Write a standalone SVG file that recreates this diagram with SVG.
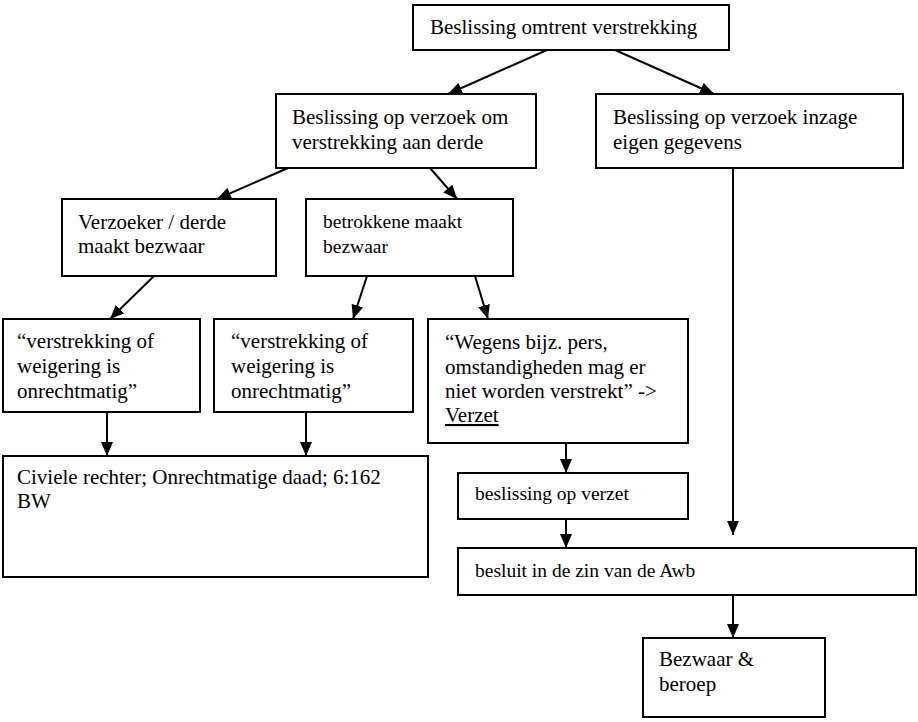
<svg xmlns="http://www.w3.org/2000/svg" width="918" height="722" viewBox="0 0 918 722">
<defs>
<marker id="ah" markerUnits="userSpaceOnUse" markerWidth="14" markerHeight="12" refX="14" refY="6" orient="auto">
<path d="M0,0 L14,6 L0,12 z" fill="#000"/>
</marker>
<style>
rect{fill:#fff;stroke:#000;stroke-width:2}
text{font-family:'Liberation Serif','DejaVu Serif',serif;font-size:21px;fill:#000}
text.s{font-size:19.5px}
#connectors line{stroke:#000;stroke-width:2;marker-end:url(#ah)}
</style>
</defs>
<rect width="918" height="722" style="fill:#fff;stroke:none"/>
<g id="connectors">
<line x1="547" y1="50" x2="448" y2="94"/>
<line x1="615" y1="50" x2="714" y2="94"/>
<line x1="288" y1="168" x2="217" y2="199"/>
<line x1="430" y1="168" x2="457" y2="199"/>
<line x1="154" y1="276" x2="110" y2="319"/>
<line x1="367" y1="276" x2="353" y2="319"/>
<line x1="475" y1="276" x2="488" y2="319"/>
<line x1="107" y1="412" x2="107" y2="456"/>
<line x1="306" y1="412" x2="306" y2="456"/>
<line x1="566" y1="443" x2="566" y2="473"/>
<line x1="566" y1="519" x2="566" y2="548"/>
<line x1="733" y1="168" x2="733" y2="535"/>
<line x1="733" y1="595" x2="733" y2="638"/>
</g>
<g font-family="Liberation Serif, DejaVu Serif, serif">
<g id="n1"><rect x="413" y="5" width="316" height="45"/><text x="430" y="34">Beslissing omtrent verstrekking</text></g>
<g id="n2"><rect x="276" y="94" width="260" height="74"/><text x="292" y="124">Beslissing op verzoek om</text><text x="292" y="149">verstrekking aan derde</text></g>
<g id="n3"><rect x="596" y="94" width="307" height="74"/><text x="613" y="124">Beslissing op verzoek inzage</text><text x="613" y="149">eigen gegevens</text></g>
<g id="n4"><rect x="62" y="199" width="214" height="77"/><text x="78" y="229">Verzoeker / derde</text><text x="78" y="253">maakt bezwaar</text></g>
<g id="n5"><rect x="306" y="199" width="207" height="77"/><text class="s" x="323" y="228">betrokkene maakt</text><text class="s" x="323" y="253">bezwaar</text></g>
<g id="n6"><rect x="3" y="319" width="197" height="93"/><text x="17" y="348">“verstrekking of</text><text x="17" y="373">weigering is</text><text x="17" y="398">onrechtmatig”</text></g>
<g id="n7"><rect x="214" y="319" width="199" height="93"/><text x="231" y="348">“verstrekking of</text><text x="231" y="373">weigering is</text><text x="231" y="398">onrechtmatig”</text></g>
<g id="n8"><rect x="428" y="319" width="260" height="124"/><text x="445" y="349">“Wegens bijz. pers,</text><text x="445" y="374">omstandigheden mag er</text><text x="445" y="398">niet worden verstrekt” -&gt;</text><text x="445" y="422" text-decoration="underline">Verzet</text></g>
<g id="n9"><rect x="3" y="456" width="425" height="121"/><text x="17" y="484">Civiele rechter; Onrechtmatige daad; 6:162</text><text x="17" y="508">BW</text></g>
<g id="n10"><rect x="458" y="473" width="230" height="46"/><text class="s" x="475" y="500">beslissing op verzet</text></g>
<g id="n11"><rect x="458" y="548" width="458" height="47"/><text class="s" x="475" y="577">besluit in de zin van de Awb</text></g>
<g id="n12"><rect x="643" y="638" width="182" height="79"/><text x="659" y="666">Bezwaar &amp;</text><text x="659" y="691">beroep</text></g>
</g>
</svg>
